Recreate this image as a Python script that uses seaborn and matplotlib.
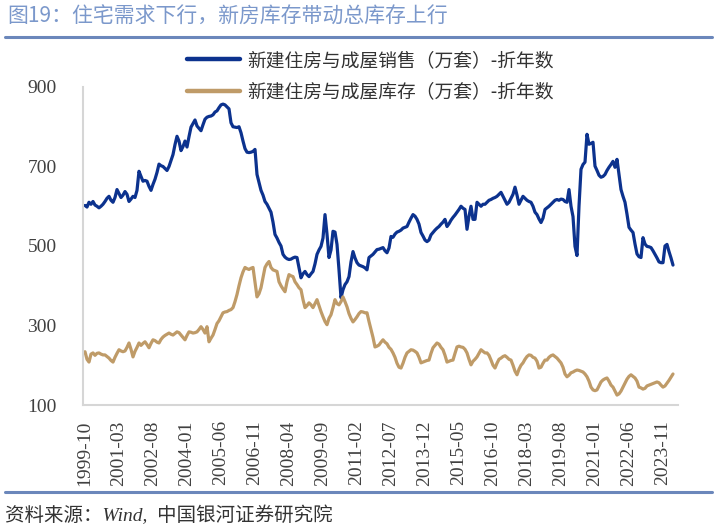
import numpy as np
import pandas as pd
import matplotlib
matplotlib.use("Agg")
import matplotlib.pyplot as plt
import seaborn as sns

# ---------------- data (monthly, 1999-10 .. 2024-04) ----------------
start_month = "1999-10"
sales = [
    602, 598, 610,
    605, 612, 603, 600, 596, 600, 605, 612, 620, 625, 615, 610,
    622, 642, 632, 622, 628, 637, 630, 612, 618, 625, 622, 640,
    688, 675, 663, 665, 663, 650, 640, 655, 668, 685, 706, 702,
    700, 695, 690, 700, 715, 730, 755, 776, 764, 740, 750, 764,
    749, 775, 799, 808, 817, 802, 796, 790, 805, 819, 824, 826,
    827, 830, 837, 840, 848, 855, 857, 855, 850, 845, 810, 800,
    799, 798, 800, 785, 764, 745, 736, 735, 736, 738, 743, 680,
    660, 640, 628, 612, 605, 595, 585, 560, 529, 520, 509, 500,
    479, 472, 468, 466, 467, 470, 472, 471, 445, 420, 430, 436,
    428, 423, 430, 436, 455, 479, 490, 499, 520, 579, 530, 471,
    490, 537, 535, 504, 440, 370, 390, 403, 410, 423, 460, 486,
    470, 458, 452, 450, 448, 445, 440, 471, 475, 479, 485, 491,
    492, 494, 496, 488, 483, 495, 524, 522, 530, 535, 537, 540,
    545, 547, 549, 560, 570, 579, 575, 567, 555, 534, 525, 515,
    511, 515, 528, 534, 540, 545, 549, 555, 560, 567, 549, 556,
    565, 572, 578, 585, 592, 600, 595, 592, 542, 575, 600, 567,
    567, 610, 605, 600, 605, 605, 610, 615, 617, 620, 622, 625,
    630, 635, 625, 615, 605, 610, 620, 630, 648, 628, 605, 615,
    625, 620, 615, 612, 610, 600, 585, 579, 568, 559, 570, 592,
    596, 600, 605, 610, 615, 617, 615, 618, 617, 612, 610, 642,
    600, 574, 499, 476, 600, 693, 705, 711, 781, 756, 758, 761,
    701, 690, 678, 673, 675, 680, 690, 698, 705, 713, 698, 718,
    680, 642, 625, 610, 580, 547, 540, 534, 505, 480, 473, 471,
    521, 505, 499, 498, 496, 488, 479, 470, 460, 458, 458, 500,
    504, 486, 470, 452,
]
inventory = [
    234, 215, 208,
    228, 231, 225, 230, 231, 228, 226, 226, 222, 218, 212, 208,
    220, 230, 239, 236, 234, 236, 245, 256, 240, 221, 235, 245,
    256, 250, 255, 259, 252, 244, 255, 264, 262, 258, 256, 265,
    271, 275, 278, 281, 278, 276, 280, 284, 282, 276, 270, 264,
    275, 284, 283, 281, 282, 284, 290, 297, 290, 281, 297, 259,
    268, 276, 290, 305, 312, 322, 332, 334, 335, 338, 340, 345,
    360, 378, 400, 420, 435, 446, 443, 441, 444, 446, 410, 372,
    380, 395, 420, 446, 455, 461, 446, 440, 438, 436, 410, 400,
    392, 385, 410, 428, 425, 423, 410, 403, 395, 390, 365, 345,
    350, 357, 352, 345, 355, 365, 350, 335, 322, 310, 302, 318,
    327, 345, 365, 355, 352, 360, 372, 360, 347, 330, 318, 309,
    315, 322, 330, 335, 334, 332, 332, 310, 290, 270, 246, 248,
    251, 258, 264, 258, 254, 245, 240, 231, 220, 205, 195, 193,
    205, 220, 231, 235, 239, 238, 235, 231, 220, 206, 208, 210,
    212, 213, 230, 244, 250, 256, 253, 245, 239, 225, 208, 210,
    212, 213, 230, 246, 248, 246, 245, 240, 231, 215, 201, 210,
    215, 221, 230, 239, 235, 231, 231, 225, 213, 200, 193, 205,
    215, 218, 222, 224, 220, 215, 213, 200, 185, 176, 190, 200,
    206, 215, 222, 226, 225, 220, 218, 210, 193, 195, 205, 213,
    213, 220, 224, 226, 222, 218, 212, 206, 195, 178, 171, 175,
    181, 183, 186, 188, 187, 185, 183, 178, 171, 160, 145, 138,
    136, 138, 148, 158, 163, 166, 168, 160, 150, 145, 135, 125,
    128, 135, 145, 155, 165, 172, 176, 172, 168, 160, 145, 143,
    140, 142, 148, 150, 152, 154, 156, 158, 156, 150, 145, 148,
    155, 162, 170, 178,
]
tick_labels = ["1999-10", "2001-03", "2002-08", "2004-01", "2005-06", "2006-11",
               "2008-04", "2009-09", "2011-02", "2012-07", "2013-12", "2015-05",
               "2016-10", "2018-03", "2019-08", "2021-01", "2022-06", "2023-11"]
y_ticks = [100, 300, 500, 700, 900]
series_names = ["新建住房与成屋销售（万套）-折年数", "新建住房与成屋库存（万套）-折年数"]
colors = ["#0c328e", "#bf9b68"]

# ---------------- build frame ----------------
months = pd.period_range(start_month, periods=len(sales), freq="M").strftime("%Y-%m")
n = len(sales)
df = pd.DataFrame({
    "idx": list(range(n)) * 2,
    "month": list(months) * 2,
    "value": sales + inventory,
    "series": [series_names[0]] * n + [series_names[1]] * n,
})
month_pos = {m: i for i, m in enumerate(months)}
tick_pos = [month_pos[t] for t in tick_labels]

sns.set_theme(style="white")
cjk = ["Noto Sans CJK SC", "DejaVu Sans"]
plt.rcParams["font.family"] = cjk
plt.rcParams["axes.unicode_minus"] = False

fig = plt.figure(figsize=(7.15, 5.31), dpi=100)
ax = fig.add_axes([83 / 715, 1 - 405 / 531, (678 - 83) / 715, (405 - 87) / 531])

sns.lineplot(data=df, x="idx", y="value", hue="series", palette=colors,
             hue_order=series_names, linewidth=2.3, ax=ax, legend=False)

ax.set_xlim(-1, 296.5)
ax.set_ylim(100, 900)
ax.set_yticks(y_ticks)
ax.set_xticks(tick_pos)
ax.set_xticklabels(tick_labels, rotation=90)
ax.set_xlabel("")
ax.set_ylabel("")
ax.tick_params(axis="both", length=0, colors="#404040")
ax.tick_params(axis="y", pad=19)
ax.tick_params(axis="x", pad=11)
for lab in ax.get_xticklabels() + ax.get_yticklabels():
    lab.set_fontfamily(["Liberation Serif", "DejaVu Serif"])
    lab.set_fontsize(14)
for s in ["top", "right"]:
    ax.spines[s].set_visible(False)
for s in ["left", "bottom"]:
    ax.spines[s].set_color("#d6d6d6")
    ax.spines[s].set_linewidth(1.5)

# legend
from matplotlib.lines import Line2D
handles = [Line2D([0], [0], color=c, lw=3.2) for c in colors]
fig.legend(handles, series_names, loc="upper left",
           bbox_to_anchor=(187 / 715, 1 - 50 / 531), frameon=False,
           borderpad=0, borderaxespad=0, handlelength=2.85, handletextpad=0.35,
           labelspacing=0.55, prop={"family": cjk, "size": 13.5},
           labelcolor="#333333")

# title, rules, source
fig.text(7 / 715, 1 - 17 / 531, "图19：住宅需求下行，新房库存带动总库存上行",
         fontsize=15, color="#7b98cb", va="center", ha="left", family=cjk)
fig.add_artist(Line2D([5 / 715, 712 / 715], [1 - 37 / 531, 1 - 37 / 531],
                      transform=fig.transFigure, color="#6b87bb", lw=2.2))
fig.add_artist(Line2D([5 / 715, 712 / 715], [1 - 492 / 531, 1 - 492 / 531],
                      transform=fig.transFigure, color="#6b87bb", lw=2.2))
fig.text(5 / 715, 1 - 515 / 531, "资料来源：Wind,  中国银河证券研究院",
         fontsize=14, color="#333333", va="center", ha="left",
         family=["Liberation Serif", "Noto Sans CJK SC"], style="italic")

fig.savefig("out.png", dpi=100)
